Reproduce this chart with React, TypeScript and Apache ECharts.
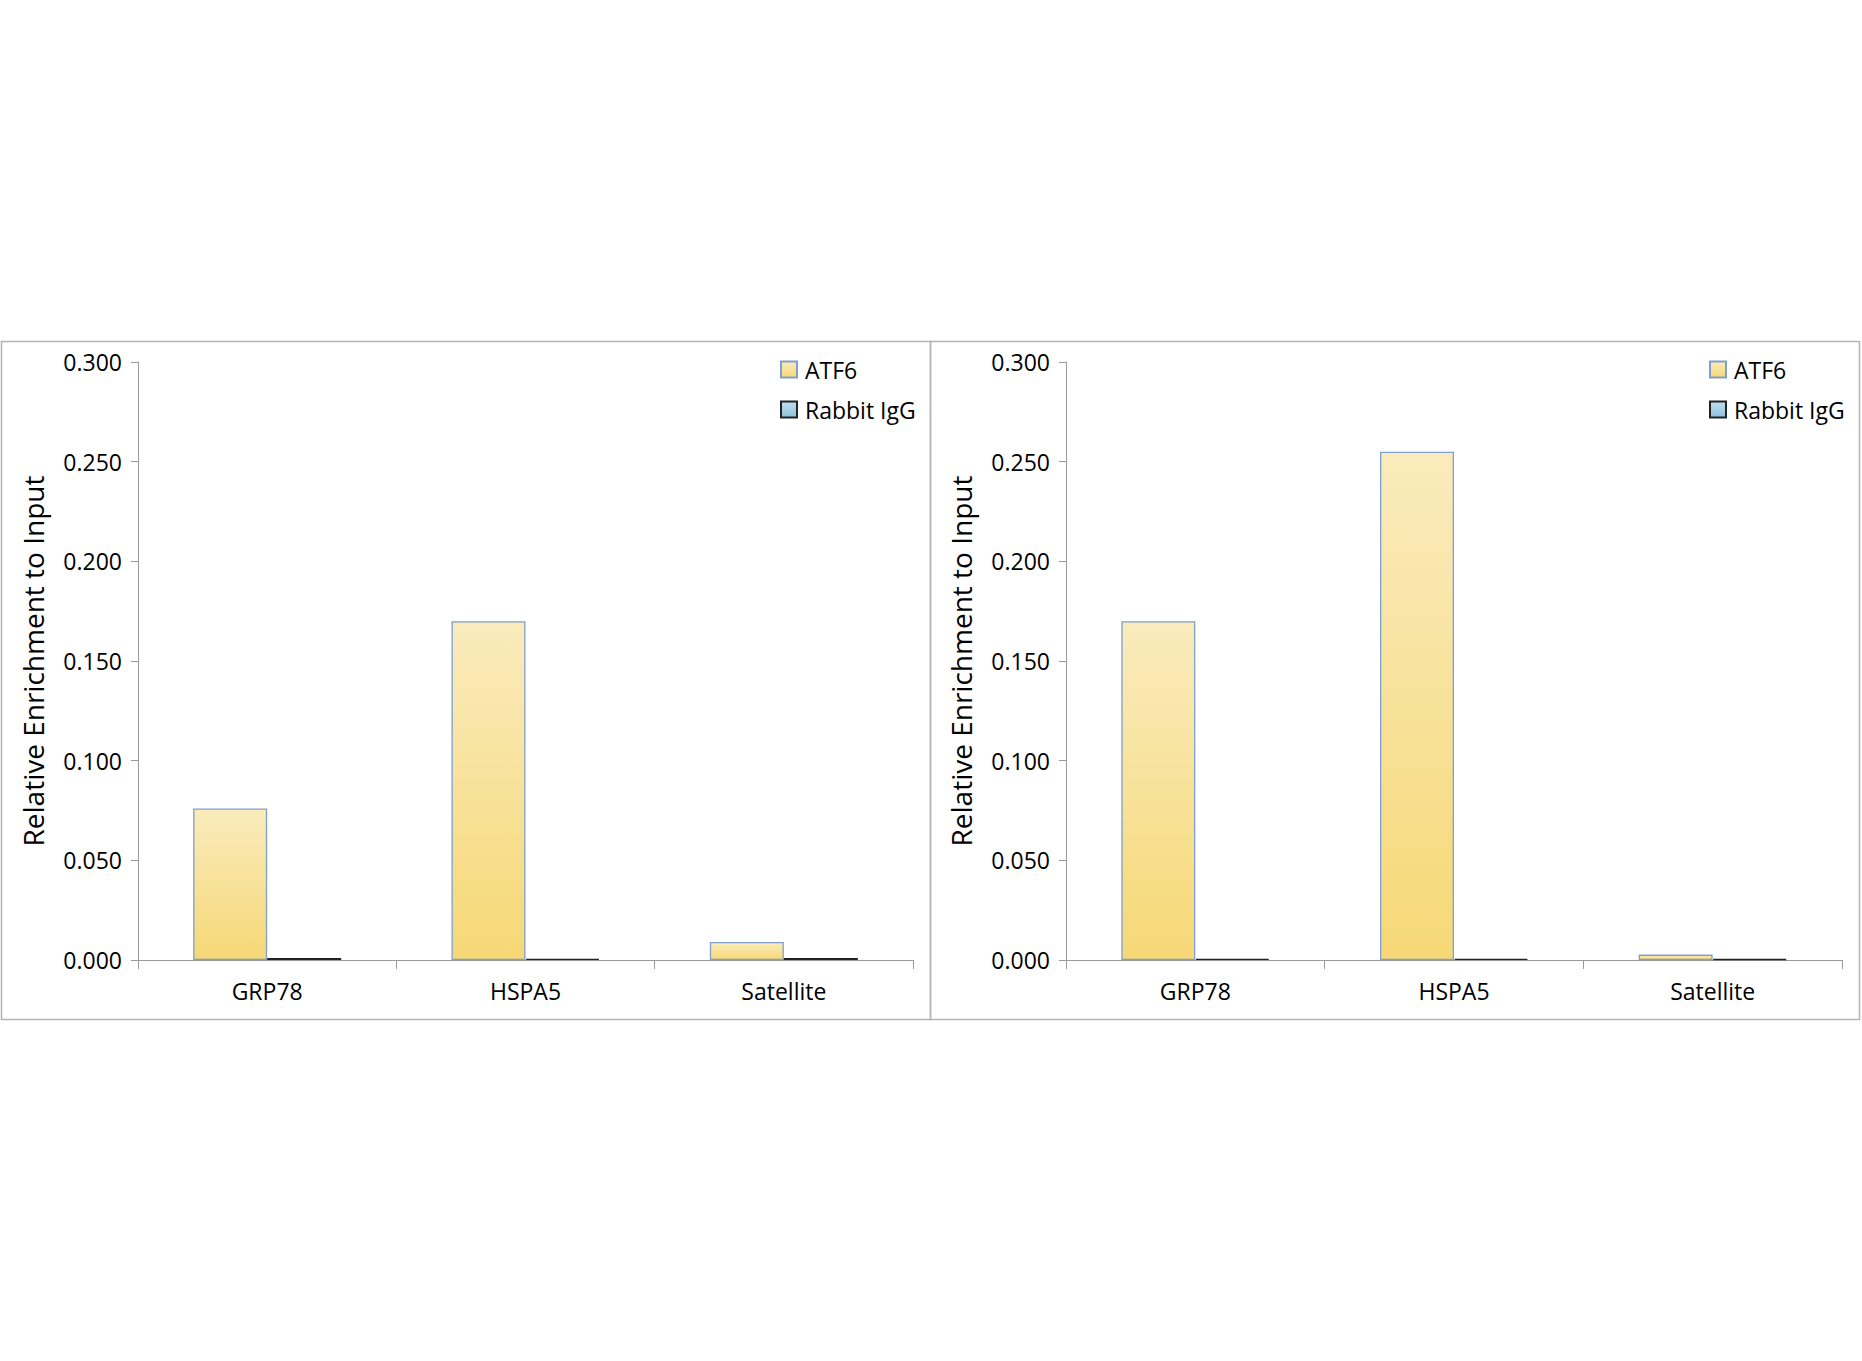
import React, { useEffect, useRef } from "react";
import * as echarts from "echarts";

const categories = ["GRP78", "HSPA5", "Satellite"];
const leftATF6 = [0.076, 0.17, 0.009];
const leftIgG = [0.001, 0.0006, 0.001];
const rightATF6 = [0.17, 0.255, 0.0027];
const rightIgG = [0.0006, 0.0006, 0.0005];
const yTicks = [0, 0.05, 0.1, 0.15, 0.2, 0.25, 0.3];
const seriesNames = ["ATF6", "Rabbit IgG"];
const yTitle = "Relative Enrichment to Input";

const FONT = "'Open Sans', 'Noto Sans', sans-serif";

export default function App() {
  const ref = useRef<HTMLDivElement>(null);
  useEffect(() => {
    if (!ref.current) return;
    const chart = echarts.init(ref.current, null, { renderer: "svg" });
    const atfColor = new echarts.graphic.LinearGradient(0, 0, 0, 1, [
      { offset: 0, color: "#FAEBBD" },
      { offset: 1, color: "#F6D876" },
    ]);
    const igColor = new echarts.graphic.LinearGradient(0, 0, 0, 1, [
      { offset: 0, color: "#C2DFEE" },
      { offset: 1, color: "#8DC1DD" },
    ]);
    const grids = [
      { left: 138, top: 362, width: 775, height: 598 },
      { left: 1066, top: 362, width: 776, height: 598 },
    ];
    const xAxes = grids.map((_, i) => ({
      type: "category",
      gridIndex: i,
      data: categories,
      axisLine: { lineStyle: { color: "#9a9a9a", width: 1 } },
      axisTick: { show: true, length: 9, lineStyle: { color: "#9a9a9a" } },
      axisLabel: { color: "#000", fontSize: 23, fontFamily: FONT, margin: 19 },
    }));
    const yAxes = grids.map((_, i) => ({
      type: "value",
      gridIndex: i,
      min: 0,
      max: 0.3,
      interval: 0.05,
      name: yTitle,
      nameLocation: "middle",
      nameGap: 91,
      nameTextStyle: { color: "#000", fontSize: 28, fontFamily: FONT },
      axisLine: { show: true, lineStyle: { color: "#9a9a9a", width: 1 } },
      axisTick: { show: true, length: 7, lineStyle: { color: "#9a9a9a" } },
      splitLine: { show: false },
      axisLabel: {
        color: "#000",
        fontSize: 23,
        fontFamily: FONT,
        margin: 16,
        formatter: (v: number) => {
          const t = yTicks.find((x) => Math.abs(x - v) < 1e-9);
          return (t ?? v).toFixed(3);
        },
      },
    }));
    const mk = (name: string, data: number[], idx: number) => ({
      name,
      type: "bar",
      xAxisIndex: idx,
      yAxisIndex: idx,
      data,
      barWidth: 74,
      barGap: "0%",
      itemStyle:
        name === "ATF6"
          ? { color: atfColor, borderColor: "#7F9FCC", borderWidth: 1.3 }
          : { color: igColor, borderColor: "#222", borderWidth: 1.3 },
    });
    const legendCommon = {
      orient: "vertical",
      top: 353,
      itemWidth: 16,
      itemHeight: 16,
      itemGap: 17,
      icon: "rect",
      data: seriesNames,
      textStyle: { color: "#000", fontSize: 23, fontFamily: FONT, padding: [0, 0, 0, 3] },
    };
    chart.setOption({
      animation: false,
      backgroundColor: "#fff",
      grid: grids,
      xAxis: xAxes,
      yAxis: yAxes,
      legend: [
        { ...legendCommon, left: 775 },
        { ...legendCommon, left: 1704 },
      ],
      series: [
        mk("ATF6", leftATF6, 0),
        mk("Rabbit IgG", leftIgG, 0),
        mk("ATF6", rightATF6, 1),
        mk("Rabbit IgG", rightIgG, 1),
      ],
      graphic: [
        {
          type: "rect",
          shape: { x: 1.5, y: 341.5, width: 929, height: 678 },
          style: { fill: "none", stroke: "#b5b5b5", lineWidth: 1.5 },
          silent: true,
        },
        {
          type: "rect",
          shape: { x: 930.5, y: 341.5, width: 929, height: 678 },
          style: { fill: "none", stroke: "#b5b5b5", lineWidth: 1.5 },
          silent: true,
        },
      ],
    });
    return () => chart.dispose();
  }, []);
  return (
    <div
      ref={ref}
      style={{ position: "fixed", left: 0, top: 0, width: 1862, height: 1361, background: "#fff" }}
    />
  );
}
